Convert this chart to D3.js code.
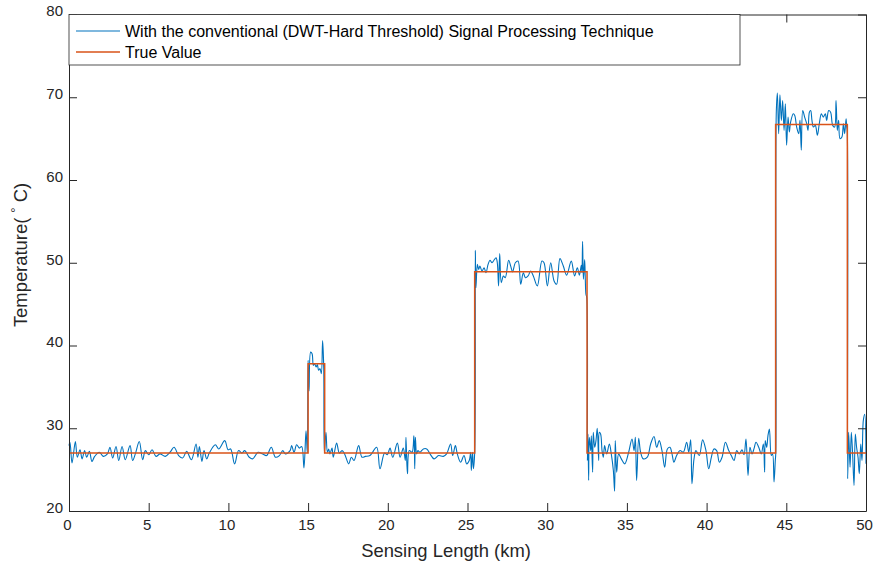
<!DOCTYPE html>
<html>
<head>
<meta charset="utf-8">
<script src="https://cdn.jsdelivr.net/npm/d3@7"></script>
<style>
  html, body { margin: 0; padding: 0; background: #fff; }
  svg { display: block; font-family: "Liberation Sans", Arial, Helvetica, sans-serif; }
</style>
</head>
<body>
<svg id="chart" width="873" height="564"></svg>
<script>
// Measured temperature after DWT hard-threshold denoising (distance in km, temperature in °C)
const measuredKm = [
  0.00, 0.06, 0.19, 0.40, 0.52, 0.69, 0.82, 0.98, 1.11, 1.28, 1.44, 1.61, 1.90, 2.15, 2.41, 2.57, 2.74, 2.95,
  3.12, 3.33, 3.53, 3.83, 3.99, 4.16, 4.41, 4.62, 4.79, 5.00, 5.21, 5.46, 5.71, 6.04, 6.34, 6.59, 6.88, 7.13,
  7.38, 7.68, 7.97, 8.09, 8.18, 8.34, 8.47, 8.64, 8.80, 9.18, 9.39, 9.77, 9.98, 10.14, 10.39, 10.64, 10.85,
  11.02, 11.31, 11.52, 11.86, 12.15, 12.40, 12.69, 12.95, 13.20, 13.41, 13.57, 13.87, 13.97, 14.12, 14.28,
  14.45, 14.60, 14.74, 14.87, 14.95,
  15.00, 15.06, 15.16, 15.25, 15.33, 15.41, 15.50, 15.58, 15.66, 15.75, 15.83, 15.91, 15.98, 16.02,
  16.12, 16.21, 16.29, 16.37, 16.50, 16.58, 16.79, 16.96, 17.13, 17.29, 17.55, 17.71, 17.88, 18.17, 18.38,
  18.59, 18.88, 19.30, 19.51, 19.80, 19.97, 20.14, 20.31, 20.60, 20.77, 20.97, 21.10, 21.14, 21.23, 21.35,
  21.52, 21.64, 21.69, 21.73, 21.81, 21.89, 22.02, 22.23, 22.44, 22.65, 22.90, 23.19, 23.48, 23.69, 23.94,
  24.07, 24.24, 24.36, 24.57, 24.78, 24.95, 25.11, 25.20, 25.24, 25.32, 25.37, 25.45,
  25.49, 25.53, 25.62, 25.70, 25.78, 25.91, 26.04, 26.16, 26.29, 26.41, 26.54, 26.66, 26.79, 26.87, 26.95,
  27.02, 27.12, 27.25, 27.37, 27.58, 27.71, 27.83, 28.00, 28.17, 28.34, 28.50, 28.63, 28.80, 28.96, 29.13,
  29.38, 29.67, 29.80, 30.01, 30.22, 30.43, 30.59, 30.80, 31.01, 31.22, 31.51, 31.72, 31.89, 32.02, 32.14,
  32.18, 32.22, 32.27, 32.35, 32.39, 32.43, 32.48,
  32.52, 32.56, 32.60, 32.64, 32.73, 32.77, 32.85, 32.89, 32.98, 33.06, 33.14, 33.23, 33.27, 33.35, 33.44,
  33.52, 33.60, 33.73, 33.90, 34.02, 34.15, 34.23, 34.27, 34.36, 34.48, 34.65, 34.86, 35.11, 35.32, 35.45,
  35.53, 35.61, 35.74, 35.86, 36.03, 36.28, 36.49, 36.70, 36.87, 37.03, 37.20, 37.37, 37.54, 37.70, 37.83,
  37.95, 38.12, 38.33, 38.54, 38.75, 38.88, 39.00, 39.08, 39.21, 39.33, 39.54, 39.75, 39.96, 40.13, 40.30,
  40.46, 40.63, 40.80, 40.97, 41.18, 41.39, 41.55, 41.72, 41.89, 42.05, 42.22, 42.35, 42.47, 42.60, 42.72,
  42.85, 42.97, 43.10, 43.27, 43.43, 43.56, 43.64, 43.68, 43.77, 43.85, 43.94, 44.06, 44.14, 44.23, 44.31,
  44.34,
  44.37, 44.44, 44.52, 44.60, 44.69, 44.77, 44.86, 44.94, 45.02, 45.11, 45.19, 45.27, 45.44, 45.53, 45.65,
  45.78, 45.86, 45.94, 46.03, 46.15, 46.28, 46.36, 46.45, 46.53, 46.61, 46.70, 46.82, 46.95, 47.07, 47.20,
  47.32, 47.45, 47.53, 47.66, 47.78, 47.91, 48.03, 48.12, 48.20, 48.28, 48.37, 48.49, 48.58, 48.66, 48.75,
  48.79, 48.82,
  48.85, 48.91, 49.00, 49.08, 49.16, 49.25, 49.33, 49.41, 49.50, 49.58, 49.67, 49.75, 49.83, 49.92, 50.00
];
const measuredC = [
  27.9, 28.3, 25.8, 28.4, 26.5, 27.4, 26.3, 27.3, 26.5, 27.2, 26.0, 26.6, 27.1, 26.6, 26.9, 27.7, 26.4, 27.8,
  26.1, 27.8, 26.2, 27.9, 26.1, 26.9, 28.4, 26.2, 27.3, 26.8, 27.4, 26.6, 26.9, 26.6, 27.1, 27.7, 26.7, 26.4,
  27.2, 26.2, 28.1, 26.5, 27.8, 26.0, 27.3, 26.3, 27.0, 28.0, 27.5, 28.5, 27.4, 27.5, 25.7, 27.3, 27.0,
  27.3, 26.5, 26.3, 27.1, 26.9, 26.7, 27.7, 26.5, 26.7, 27.3, 26.9, 27.3, 27.9, 27.1, 28.0,
  27.6, 27.8, 25.2, 29.7, 27.0,
  38.2, 34.5, 39.2, 39.0, 37.6, 37.8, 37.4, 37.7, 37.0, 37.2, 36.6, 40.6, 37.4, 27.0,
  29.5, 27.1, 27.5, 26.9, 27.6, 26.5, 28.2, 27.0, 27.3, 26.9, 25.7, 26.5, 26.1, 27.9, 26.5,
  26.6, 26.7, 27.7, 25.1, 27.0, 26.8, 27.6, 26.5, 28.2, 26.5, 27.6, 26.1, 28.9, 24.5, 27.3,
  27.1, 29.1, 25.1, 28.9, 26.9, 27.3, 27.1, 27.5, 27.5, 26.9, 26.3, 26.7, 26.6, 26.9, 28.1,
  26.7, 27.9, 26.9, 25.9, 26.7, 25.7, 26.1, 27.1, 24.9, 27.1, 25.1, 27.0,
  51.5, 47.0, 49.8, 49.2, 49.6, 49.0, 49.4, 48.8, 49.8, 50.3, 50.0, 50.3, 50.6, 50.0, 47.2,
  51.1, 47.6, 48.4, 48.2, 50.3, 49.6, 48.9, 50.0, 50.2, 47.4, 48.8, 48.2, 48.4, 49.0, 48.4,
  47.2, 50.2, 50.0, 47.2, 50.0, 47.8, 47.4, 50.5, 49.6, 48.5, 50.2, 48.4, 49.4, 48.5, 49.7,
  48.8, 52.6, 48.0, 50.4, 48.0, 46.2, 45.8,
  26.1, 29.3, 23.7, 28.9, 27.3, 29.1, 24.7, 29.5, 27.7, 28.5, 30.0, 26.1, 29.5, 29.3, 27.3,
  26.5, 27.9, 26.9, 28.1, 26.9, 24.9, 22.4, 28.5, 24.7, 26.9, 26.3, 25.7, 27.1, 28.7, 27.3,
  28.9, 23.7, 28.8, 27.1, 26.3, 26.5, 28.1, 29.0, 27.7, 28.5, 27.3, 25.3, 27.5, 27.7, 26.9,
  25.9, 26.7, 27.3, 27.1, 28.3, 27.1, 28.6, 23.3, 26.3, 27.3, 26.7, 28.6, 27.3, 25.1, 26.5,
  27.5, 27.3, 25.9, 26.5, 28.3, 27.3, 26.7, 26.1, 27.3, 26.9, 27.4, 26.8, 28.7, 24.3, 27.7,
  26.9, 27.5, 28.3, 27.7, 26.9, 28.1, 24.7, 28.5, 27.7, 29.1, 29.9, 26.7, 26.9, 23.5, 26.1,
  27.0,
  68.0, 70.5, 65.6, 70.3, 67.2, 69.6, 66.0, 69.2, 64.2, 67.6, 65.8, 67.0, 68.0, 67.8, 66.4,
  65.6, 67.2, 63.6, 68.4, 67.6, 66.8, 66.0, 68.2, 68.4, 67.2, 66.4, 66.6, 65.4, 66.8, 68.0,
  67.6, 68.0, 67.2, 68.4, 68.2, 66.6, 66.4, 69.6, 66.0, 67.2, 65.0, 65.2, 66.8, 65.6, 67.4,
  66.4, 66.0,
  23.9, 29.5, 25.3, 29.5, 26.9, 23.1, 29.3, 27.7, 26.5, 24.5, 28.1, 26.1, 30.9, 31.7, 25.7
];

// Reference (true) temperature profile: step changes along the fibre
const trueKm = [0, 15.0, 15.0, 16.04, 16.04, 25.45, 25.45, 32.5, 32.5, 44.33, 44.33, 48.83, 48.83, 50];
const trueC  = [27, 27, 37.8, 37.8, 27, 27, 48.9, 48.9, 27, 27, 66.7, 66.7, 27, 27];

// Axis ticks and labels
const xTicks = [0, 5, 10, 15, 20, 25, 30, 35, 40, 45, 50];
const yTicks = [20, 30, 40, 50, 60, 70, 80];
const seriesNames = ["With the conventional (DWT-Hard Threshold) Signal Processing Technique", "True Value"];
const seriesColors = ["#0072BD", "#D95319"];

const svg = d3.select("#chart");
const plotLeft = 69, plotRight = 866, plotTop = 14.5, plotBottom = 511;
const axisColor = "#262626";

const x = d3.scaleLinear().domain([0, 50]).range([plotLeft, plotRight]);
const y = d3.scaleLinear().domain([20, 80]).range([plotBottom, plotTop]);

// Data lines
const measured = measuredKm.map((d, i) => [d, measuredC[i]]);
const truth = trueKm.map((d, i) => [d, trueC[i]]);

svg.append("path")
  .datum(measured)
  .attr("fill", "none")
  .attr("stroke", seriesColors[0])
  .attr("stroke-width", 1.1)
  .attr("stroke-linejoin", "round")
  .attr("d", d3.line().x(d => x(d[0])).y(d => y(d[1])).curve(d3.curveCatmullRom.alpha(0.5)));

svg.append("path")
  .datum(truth)
  .attr("fill", "none")
  .attr("stroke", seriesColors[1])
  .attr("stroke-width", 1.5)
  .attr("d", d3.line().x(d => x(d[0])).y(d => y(d[1])));

// Axes with inward ticks on all four sides
function styleAxis(g) {
  g.selectAll("path.domain").attr("stroke", axisColor).attr("stroke-width", 1);
  g.selectAll(".tick line").attr("stroke", axisColor).attr("stroke-width", 1);
  g.selectAll(".tick text").attr("fill", axisColor).attr("font-size", 15)
    .attr("font-family", "Liberation Sans, Arial, sans-serif");
}

svg.append("g")
  .attr("transform", `translate(0,${plotBottom})`)
  .call(d3.axisBottom(x).tickValues(xTicks).tickSizeInner(-8).tickSizeOuter(0).tickPadding(8))
  .call(styleAxis)
  .call(g => g.selectAll(".tick text").attr("dx", -2));

svg.append("g")
  .attr("transform", `translate(0,${plotTop})`)
  .call(d3.axisTop(x).tickValues(xTicks).tickSizeInner(-8).tickSizeOuter(0).tickFormat(""))
  .call(styleAxis);

svg.append("g")
  .attr("transform", `translate(${plotLeft},0)`)
  .call(d3.axisLeft(y).tickValues(yTicks).tickSizeInner(-8).tickSizeOuter(0).tickPadding(6))
  .call(styleAxis)
  .call(g => g.selectAll(".tick text").attr("dy", "0.09em"));

svg.append("g")
  .attr("transform", `translate(${plotRight},0)`)
  .call(d3.axisRight(y).tickValues(yTicks).tickSizeInner(-8).tickSizeOuter(0).tickFormat(""))
  .call(styleAxis);

// Axis titles
svg.append("text")
  .attr("x", 446).attr("y", 557)
  .attr("text-anchor", "middle")
  .attr("font-size", 18.4)
  .attr("fill", axisColor)
  .text("Sensing Length (km)");

const yTitle = svg.append("text")
  .attr("transform", "translate(27,255) rotate(-90)")
  .attr("text-anchor", "middle")
  .attr("font-size", 18.4)
  .attr("fill", axisColor);
yTitle.append("tspan").text("Temperature( ");
yTitle.append("tspan").attr("font-size", 13).attr("dy", -7).text("°");
yTitle.append("tspan").attr("dy", 7).text(" C)");

// Legend
const legend = svg.append("g");
legend.append("rect")
  .attr("x", plotLeft).attr("y", plotTop)
  .attr("width", 740 - plotLeft).attr("height", 65 - plotTop)
  .attr("fill", "#fff")
  .attr("stroke", axisColor)
  .attr("stroke-width", 0.8);

seriesNames.forEach((name, i) => {
  const ly = 31 + i * 21;
  legend.append("line")
    .attr("x1", 76).attr("x2", 120)
    .attr("y1", ly).attr("y2", ly)
    .attr("stroke", seriesColors[i])
    .attr("stroke-width", i === 0 ? 1.1 : 1.5);
  legend.append("text")
    .attr("x", 125).attr("y", ly)
    .attr("dy", "0.35em")
    .attr("font-size", 16)
    .attr("fill", "#000")
    .text(name);
});
</script>
</body>
</html>
